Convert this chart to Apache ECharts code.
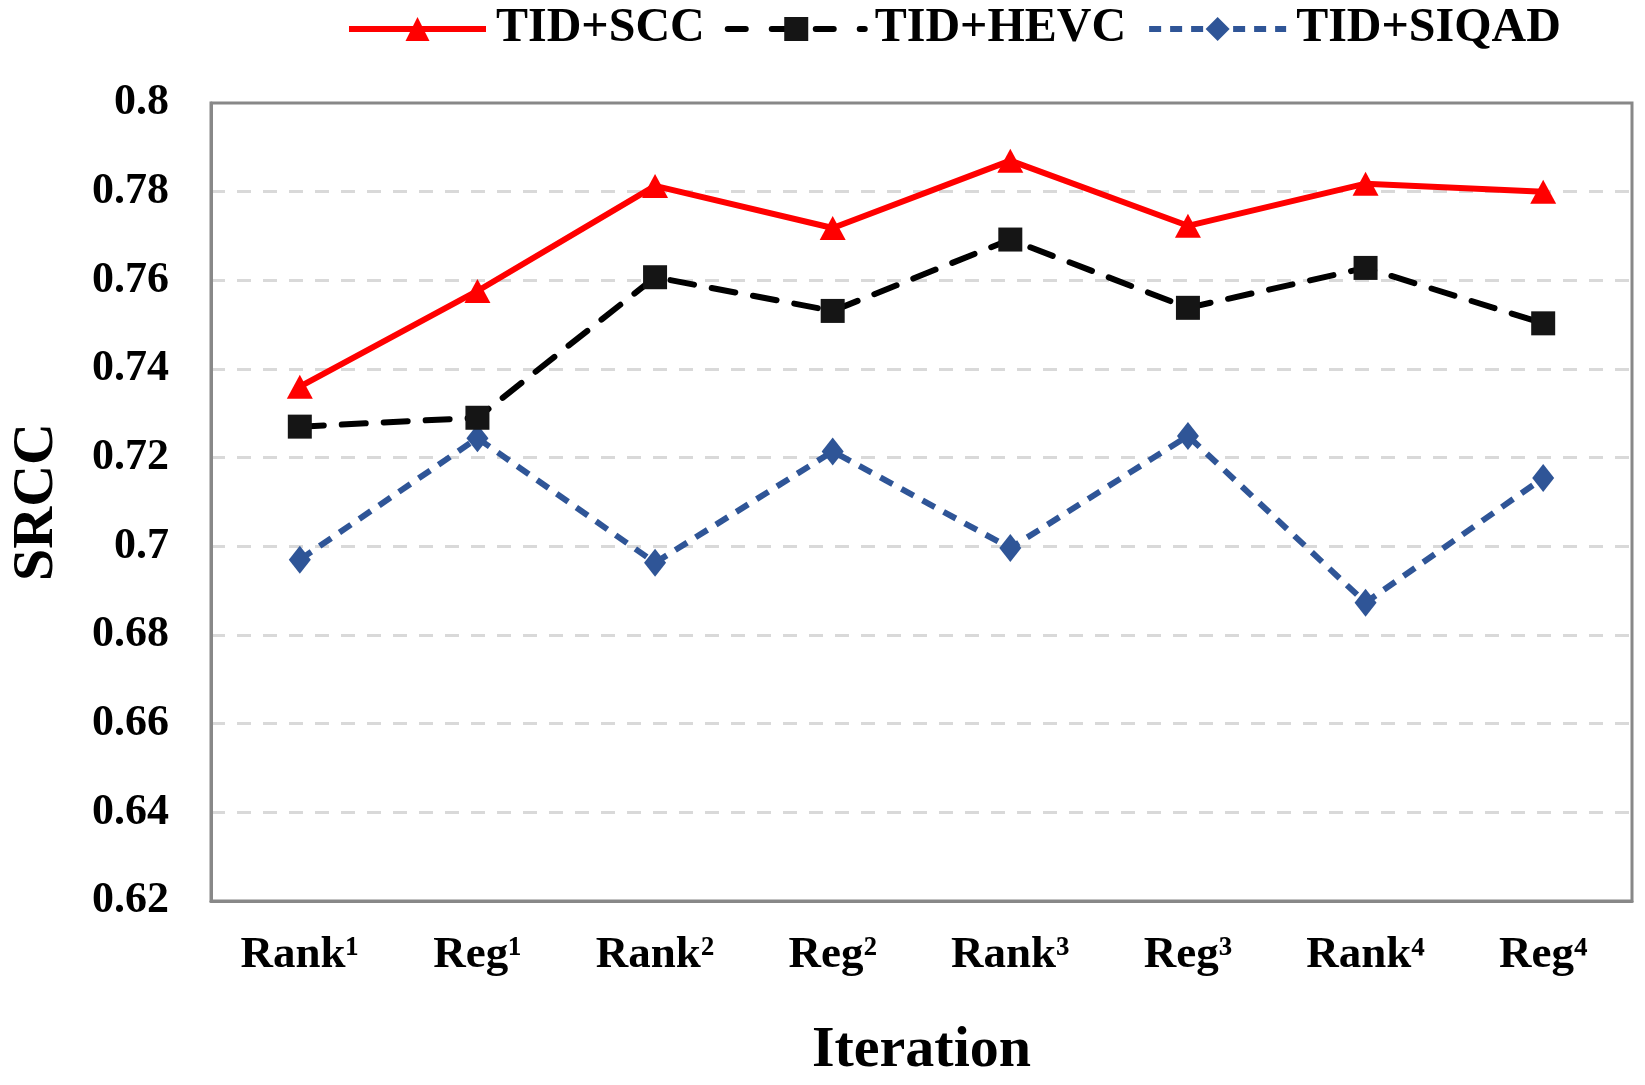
<!DOCTYPE html>
<html>
<head>
<meta charset="utf-8">
<script src="https://cdn.jsdelivr.net/npm/echarts@6/dist/echarts.min.js"></script>
<style>html,body{margin:0;padding:0;background:#fff}#c{width:1645px;height:1085px}</style>
</head>
<body>
<div id="c"></div>
<script>
const categories = ['Rank\u00b9','Reg\u00b9','Rank\u00b2','Reg\u00b2','Rank\u00b3','Reg\u00b3','Rank\u2074','Reg\u2074'];
const sccValues = [0.736, 0.7576, 0.7813, 0.7718, 0.787, 0.7723, 0.7818, 0.780];
const hevcValues = [0.727, 0.729, 0.7607, 0.7531, 0.7692, 0.7538, 0.7628, 0.7503];
const siqadValues = [0.697, 0.7244, 0.6963, 0.7214, 0.6996, 0.7249, 0.6873, 0.7154];
const seriesNames = ['TID+SCC', 'TID+HEVC', 'TID+SIQAD'];

const font = '"Liberation Serif", "Times New Roman", serif';
const chart = echarts.init(document.getElementById('c'));
chart.setOption({
  backgroundColor: '#fff',
  animation: false,
  legend: {
    top: 0,
    left: 341,
    itemWidth: 137,
    itemHeight: 30,
    itemGap: 20,
    textStyle: {fontFamily: font, fontWeight: 'bold', fontSize: 48, color: '#000', padding: [0, 0, 0, 5]},
    lineStyle: {width: 5},
    data: [
      {name: seriesNames[0], lineStyle: {width: 6, color: '#ff0000'}},
      {name: seriesNames[1], lineStyle: {width: 6, color: '#000', type: [18, 26]}},
      {name: seriesNames[2], lineStyle: {width: 6, color: '#2f5597', type: [12, 9]}}
    ]
  },
  grid: {
    left: 200, right: 13, top: 103, bottom: 183,
    show: true, borderColor: '#888', borderWidth: 3
  },
  xAxis: {
    type: 'category',
    data: categories,
    boundaryGap: true,
    name: 'Iteration',
    nameLocation: 'middle',
    nameGap: 121,
    nameTextStyle: {fontFamily: font, fontWeight: 'bold', fontSize: 58, color: '#000'},
    axisLine: {show: true, lineStyle: {color: '#888', width: 3}},
    axisTick: {show: false},
    axisLabel: {fontFamily: font, fontWeight: 'bold', fontSize: 45, color: '#000', margin: 32}
  },
  yAxis: {
    type: 'value',
    min: 0.62, max: 0.8, interval: 0.02,
    name: 'SRCC',
    nameLocation: 'middle',
    nameGap: 145,
    nameTextStyle: {fontFamily: font, fontWeight: 'bold', fontSize: 58, color: '#000'},
    axisLine: {show: true, lineStyle: {color: '#888', width: 3}},
    axisTick: {show: false},
    axisLabel: {fontFamily: font, fontWeight: 'bold', fontSize: 44, color: '#000', margin: 42,
      formatter: v => String(+v.toFixed(2))},
    splitLine: {show: true, showMaxLine: false, showMinLine: false,
      lineStyle: {color: '#d9d9d9', width: 3, type: [14, 12]}}
  },
  series: [
    {
      name: seriesNames[0], type: 'line', data: sccValues,
      symbol: 'triangle', symbolSize: [26, 24],
      itemStyle: {color: '#ff0000'},
      lineStyle: {color: '#ff0000', width: 6, type: 'solid'},
      z: 3
    },
    {
      name: seriesNames[1], type: 'line', data: hevcValues,
      symbol: 'rect', symbolSize: 24,
      itemStyle: {color: '#151515'},
      lineStyle: {color: '#000', width: 6, type: [24, 18], cap: 'round'},
      z: 2
    },
    {
      name: seriesNames[2], type: 'line', data: siqadValues,
      symbol: 'diamond', symbolSize: [22, 28],
      itemStyle: {color: '#2f5597'},
      lineStyle: {color: '#2f5597', width: 6, type: [14, 10]},
      z: 1
    }
  ]
});
</script>
</body>
</html>
